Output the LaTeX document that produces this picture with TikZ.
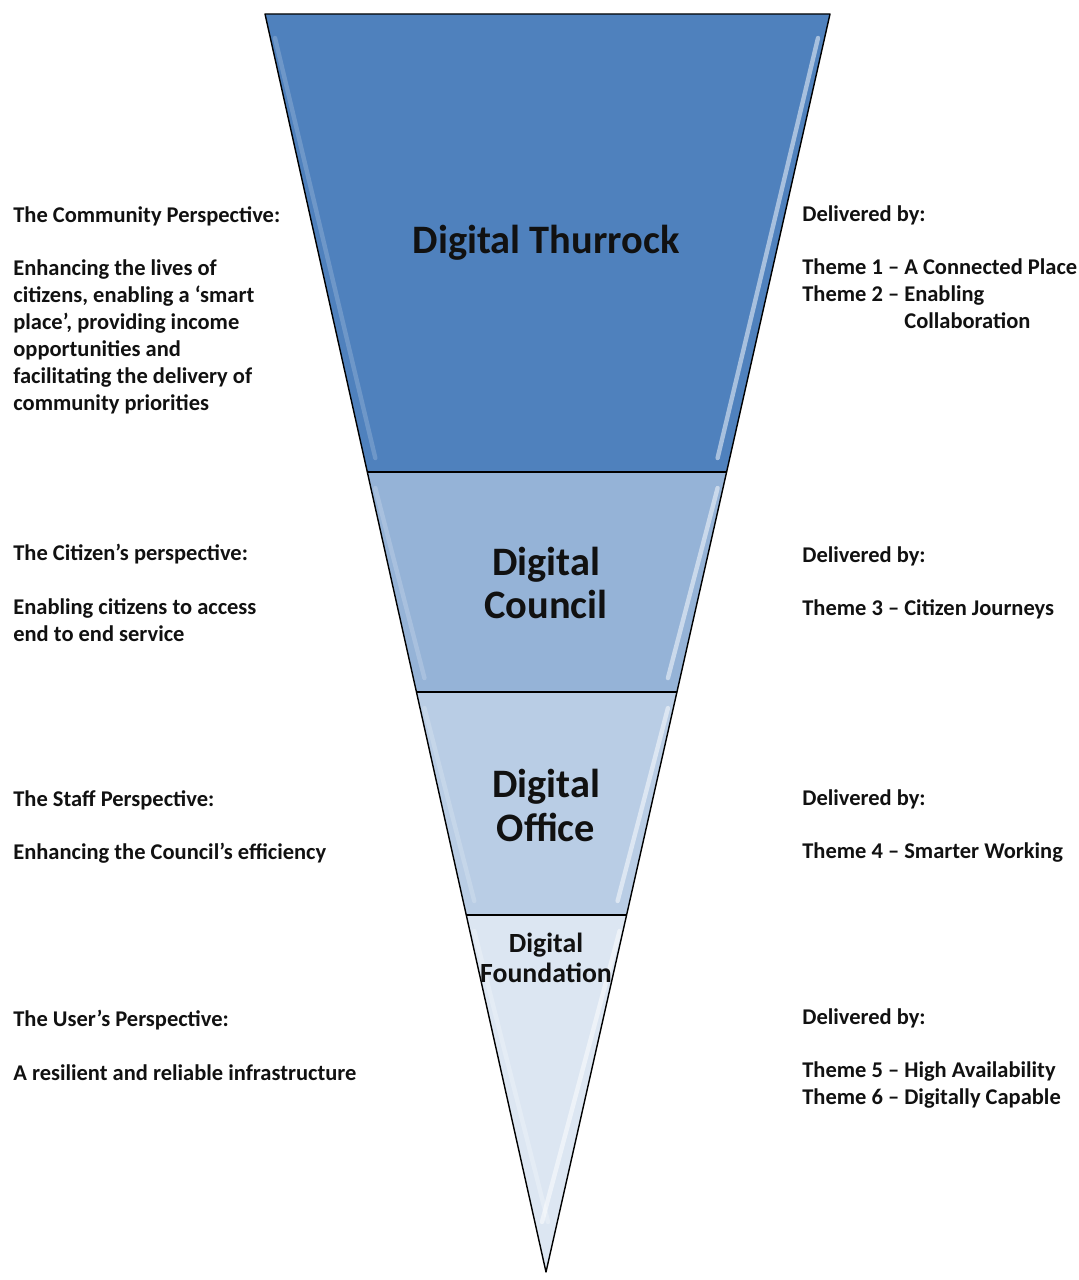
\documentclass[tikz,border=0pt]{standalone}
\usepackage{fontspec}
\setmainfont{Carlito}
\usetikzlibrary{calc}
\definecolor{bandA}{HTML}{4F81BD}
\definecolor{bandB}{HTML}{95B3D7}
\definecolor{bandC}{HTML}{B9CDE5}
\definecolor{bandD}{HTML}{DCE6F2}
\definecolor{ink}{HTML}{111111}

\begin{document}
\begin{tikzpicture}[x=0.02cm, y=-0.02cm,
	shine/.style={white, opacity=0.5, line width=2.5pt, line cap=round},
	side/.style={anchor=north west, align=left, inner sep=0pt, text=ink, font=\bfseries\fontsize{12.8}{15.3}\selectfont},
	level/.style={align=center, inner sep=0pt, text=ink, font=\bfseries\fontsize{23}{25}\selectfont}]
	\useasboundingbox (0,0) rectangle (1078,1280);
	
	\coordinate (tl) at (265,14);
	\coordinate (tr) at (830,14);
	\coordinate (ap) at (546,1272);
	\coordinate (l1) at ($(tl)!0.3641!(ap)$);
	\coordinate (r1) at ($(tr)!0.3641!(ap)$);
	\coordinate (l2) at ($(tl)!0.5390!(ap)$);
	\coordinate (r2) at ($(tr)!0.5390!(ap)$);
	\coordinate (l3) at ($(tl)!0.7162!(ap)$);
	\coordinate (r3) at ($(tr)!0.7162!(ap)$);
	
	% bands
	\fill[bandA] (tl) -- (tr) -- (r1) -- (l1) -- cycle;
	\fill[bandB] (l1) -- (r1) -- (r2) -- (l2) -- cycle;
	\fill[bandC] (l2) -- (r2) -- (r3) -- (l3) -- cycle;
	\fill[bandD] (l3) -- (r3) -- (ap) -- cycle;
	
	% bevel highlights
	\draw[shine] ($(tr)+(-12,24)$) -- ($(r1)+(-9,-14)$);
	\draw[shine] ($(r1)+(-9,16)$) -- ($(r2)+(-9,-14)$);
	\draw[shine] ($(r2)+(-9,16)$) -- ($(r3)+(-9,-14)$);
	\draw[shine] ($(r3)+(-7,16)$) -- ($(ap)+(-4,-50)$);
	\draw[shine, opacity=0.18] ($(tl)+(10,24)$) -- ($(l1)+(8,-14)$);
	\draw[shine, opacity=0.18] ($(l1)+(8,16)$) -- ($(l2)+(8,-14)$);
	\draw[shine, opacity=0.18] ($(l2)+(8,16)$) -- ($(l3)+(8,-14)$);
	\draw[shine, opacity=0.25] ($(l3)+(8,16)$) -- ($(ap)+(2,-50)$);
	
	% outline
	\draw[line width=0.8pt, line join=round] (tl) -- (tr) -- (ap) -- cycle;
	\draw[line width=0.8pt] (l1) -- (r1);
	\draw[line width=0.8pt] (l2) -- (r2);
	\draw[line width=0.8pt] (l3) -- (r3);
	
	% levels
	\node[level] (thurrock) at (546,243) {Digital Thurrock};
	\node[level] (council) at (546,583) {Digital\\Council};
	\node[level] (office) at (546,805) {Digital\\Office};
	\node[level, font=\bfseries\fontsize{15.8}{17}\selectfont] (foundation) at (546,958) {Digital\\Foundation};
	
	% perspectives
	\node[side] (community) at (13,206) {The Community Perspective:\\[15.3pt]
		Enhancing the lives of\\
		citizens, enabling a ‘smart\\
		place’, providing income\\
		opportunities and\\
		facilitating the  delivery of\\
		community priorities};
	\node[side] (citizen) at (13,544) {The Citizen’s perspective:\\[15.3pt]
		Enabling citizens to access\\
		end to end service};
	\node[side] (staff) at (13,790) {The Staff Perspective:\\[15.3pt]
		Enhancing the Council’s efficiency};
	\node[side] (user) at (13,1010) {The User’s Perspective:\\[15.3pt]
		A resilient  and reliable  infrastructure};
	
	% delivery
	\node[side] (deliverA) at (802,205) {Delivered by:\\[15.3pt]
		Theme 1 – A Connected Place\\
		Theme 2 – Enabling\\
		\phantom{Theme 2 – }Collaboration};
	\node[side] (deliverB) at (802,546) {Delivered by:\\[15.3pt]
		Theme 3 – Citizen Journeys};
	\node[side] (deliverC) at (802,789) {Delivered by:\\[15.3pt]
		Theme 4 – Smarter Working};
	\node[side] (deliverD) at (802,1008) {Delivered by:\\[15.3pt]
		Theme 5 – High Availability\\
		Theme 6 – Digitally Capable};
\end{tikzpicture}
\end{document}
